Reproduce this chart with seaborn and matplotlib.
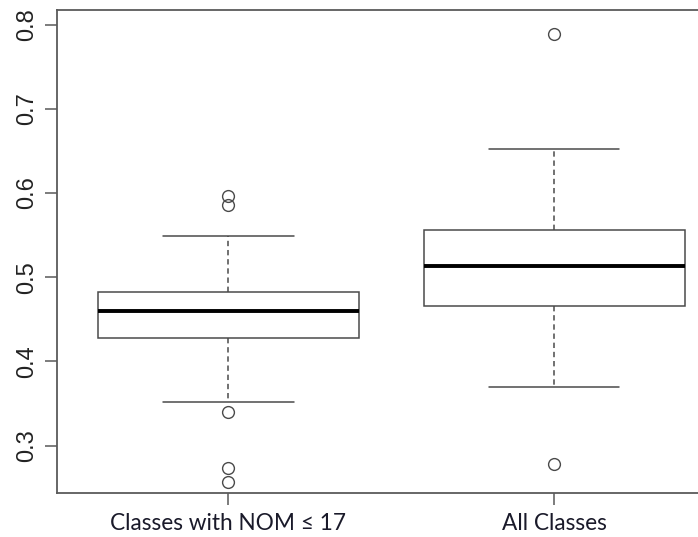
import matplotlib
matplotlib.use("Agg")
import matplotlib.pyplot as plt
import seaborn as sns
import pandas as pd

# Data (values chosen so that quartiles/whiskers/outliers match)
categories = ["Classes with NOM \u2264 17", "All Classes"]
nom17_values = [0.257, 0.274, 0.340, 0.3516, 0.4277, 0.440, 0.450, 0.455, 0.460,
                0.465, 0.470, 0.478, 0.4826, 0.520, 0.5488, 0.586, 0.597]
all_values = [0.278, 0.370, 0.420, 0.4662, 0.490, 0.500, 0.5138, 0.530, 0.545,
              0.5557, 0.600, 0.652, 0.789]
y_ticks = [0.3, 0.4, 0.5, 0.6, 0.7, 0.8]

df = pd.DataFrame({
    "group": [categories[0]] * len(nom17_values) + [categories[1]] * len(all_values),
    "value": nom17_values + all_values,
})

sns.set_style("white")
W, H = 698, 537
fig = plt.figure(figsize=(W / 100, H / 100), dpi=100)
left, right, top, bottom = 56.7, 698, 10.3, 493.3
ax = fig.add_axes([left / W, (H - bottom) / H, (right - left) / W, (bottom - top) / H])

edge = "#4a4a4a"
sns.boxplot(
    data=df, x="group", y="value", order=categories, ax=ax,
    width=0.8, color="white", linecolor=edge, linewidth=1.1, saturation=1,
    medianprops=dict(color="black", linewidth=2.8),
    whiskerprops=dict(color=edge, linewidth=1.1, linestyle=(0, (3.5, 2.5))),
    capprops=dict(color=edge, linewidth=1.1),
    flierprops=dict(marker="o", markerfacecolor="none", markeredgecolor=edge,
                    markersize=8.5, markeredgewidth=1.0),
)

ax.set_xlim(-0.527, 1.441)
ax.set_ylim(0.2435, 0.817)
ax.set_yticks(y_ticks)
ax.set_yticklabels([f"{t:.1f}" for t in y_ticks], rotation=90, va="center",
                   fontsize=17, family="Liberation Sans", color="#222222")
ax.set_xticks(range(len(categories)))
ax.set_xticklabels(categories, fontsize=16.3, family=["Lato", "DejaVu Sans"], color="#1a1a2a")
ax.set_xlabel("")
ax.set_ylabel("")

for s in ["left", "bottom", "top"]:
    ax.spines[s].set_visible(True)
    ax.spines[s].set_color("#5a5a5a")
    ax.spines[s].set_linewidth(1.3)
ax.spines["right"].set_visible(False)
ax.tick_params(axis="both", which="major", length=8.5, width=1.2, color="#666666",
               left=True, bottom=True)
ax.tick_params(axis="y", pad=5)
ax.tick_params(axis="x", pad=6)

fig.savefig("out.png", dpi=100, facecolor="white")
